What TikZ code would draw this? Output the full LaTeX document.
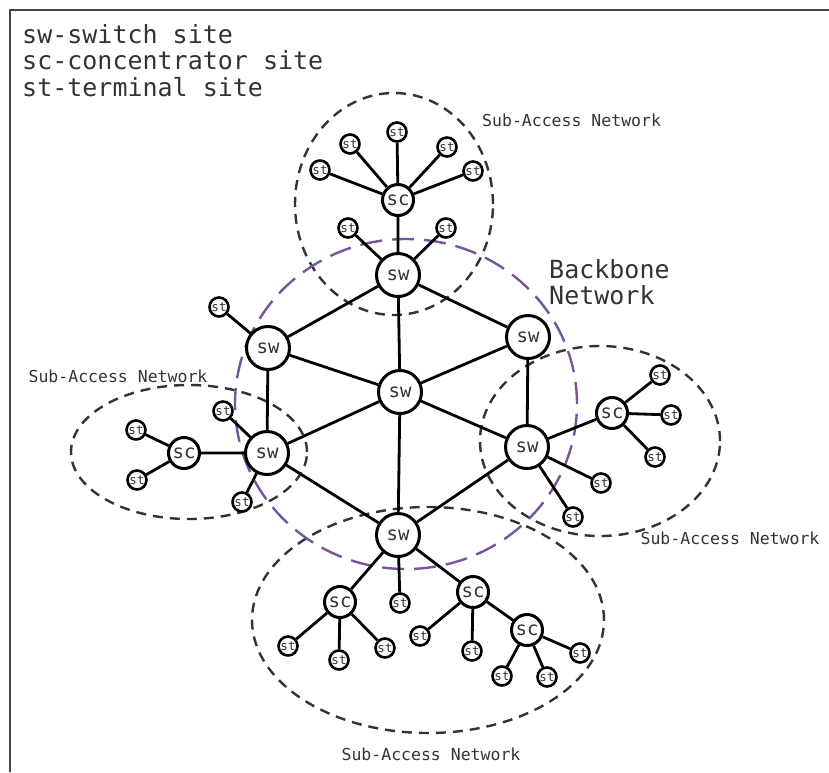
\documentclass[tikz,border=0pt]{standalone}
\usepackage{fontspec}
\setmonofont{DejaVu Sans Mono}
\usepackage{xcolor}
\definecolor{ink}{HTML}{333333}
\definecolor{framegray}{HTML}{444444}
\definecolor{bbpurple}{HTML}{76559A}

\begin{document}
\begin{tikzpicture}[x=1pt,y=-1pt]
  \tikzstyle{swnode}=[circle,draw,line width=3pt,fill=white,minimum size=43pt,inner sep=0pt,text=ink,font=\ttfamily\fontsize{19}{19}\selectfont]
  \tikzstyle{scnode}=[swnode,minimum size=31pt]
  \tikzstyle{stnode}=[swnode,minimum size=19pt,line width=2.6pt,font=\ttfamily\fontsize{12.5}{12.5}\selectfont]
  \tikzstyle{link}=[line width=2.8pt]
  \tikzstyle{area}=[draw=ink,dash pattern=on 10pt off 7pt,line width=2.4pt]
  \tikzstyle{areatxt}=[text=ink,inner sep=0pt,font=\ttfamily\fontsize{16.5}{16.5}\selectfont]
  \tikzstyle{bigtxt}=[text=ink,inner sep=0pt,align=left,anchor=north west,font=\ttfamily\fontsize{25}{26.5}\selectfont]
  \useasboundingbox (0,0) rectangle (829,772);
  \draw[line width=2.6pt,framegray] (10,772) -- (10,10) -- (829,10);
  % legend
  \node[bigtxt] (legend) at (22,24) {sw-switch site\\sc-concentrator site\\st-terminal site};
  % areas
  \draw[area] (394,204) ellipse [x radius=99pt,y radius=111pt];
  \draw[area] (189,452) ellipse [x radius=118pt,y radius=67pt];
  \draw[area] (600,441) ellipse [x radius=120pt,y radius=95pt];
  \draw[area] (428,620) ellipse [x radius=176pt,y radius=113pt];
  \draw[bbpurple,line width=2.4pt,dash pattern=on 22pt off 10pt] (406,404) ellipse [x radius=171pt,y radius=165pt];
  \node[areatxt,anchor=west] (toplabel) at (482,120) {Sub-Access Network};
  \node[areatxt] (leftlabel) at (118,376) {Sub-Access Network};
  \node[areatxt] (rightlabel) at (730,538) {Sub-Access Network};
  \node[areatxt] (bottomlabel) at (431,754) {Sub-Access Network};
  \node[bigtxt] (bbtext) at (549,259) {Backbone\\Network};
  % backbone switches
  \node[swnode] (swt) at (398,275) {sw};
  \node[swnode] (swul) at (268,348) {sw};
  \node[swnode] (swur) at (528,337) {sw};
  \node[swnode] (swc) at (400,392) {sw};
  \node[swnode] (swll) at (267,453) {sw};
  \node[swnode] (swlr) at (527,447) {sw};
  \node[swnode] (swb) at (398,535) {sw};
  % top access
  \node[scnode] (sct) at (398,200) {sc};
  \node[stnode] (stt1) at (320,170) {st};
  \node[stnode] (stt2) at (350,144) {st};
  \node[stnode] (stt3) at (397,132) {st};
  \node[stnode] (stt4) at (447,147) {st};
  \node[stnode] (stt5) at (473,171) {st};
  \node[stnode] (stt6) at (348,228) {st};
  \node[stnode] (stt7) at (446,228) {st};
  % left access
  \node[stnode] (stul) at (219,307) {st};
  \node[scnode] (scl) at (184,453) {sc};
  \node[stnode] (stl1) at (136,430) {st};
  \node[stnode] (stl2) at (137,480) {st};
  \node[stnode] (stl3) at (223,411) {st};
  \node[stnode] (stl4) at (242,502) {st};
  % right access
  \node[scnode] (scr) at (612,413) {sc};
  \node[stnode] (str1) at (660,375) {st};
  \node[stnode] (str2) at (671,415) {st};
  \node[stnode] (str3) at (655,457) {st};
  \node[stnode] (str4) at (601,483) {st};
  \node[stnode] (str5) at (573,517) {st};
  % bottom access
  \node[stnode] (stb0) at (400,603) {st};
  \node[scnode] (scb1) at (340,602) {sc};
  \node[stnode] (stb1) at (288,646) {st};
  \node[stnode] (stb2) at (339,660) {st};
  \node[stnode] (stb3) at (385,648) {st};
  \node[scnode] (scb2) at (473,592) {sc};
  \node[stnode] (stb4) at (420,636) {st};
  \node[stnode] (stb5) at (472,651) {st};
  \node[scnode] (scb3) at (527,630) {sc};
  \node[stnode] (stb6) at (502,676) {st};
  \node[stnode] (stb7) at (547,677) {st};
  \node[stnode] (stb8) at (580,653) {st};
  % backbone links
  \draw[link] (swt)--(swul) (swt)--(swur) (swt)--(swc);
  \draw[link] (swul)--(swc) (swur)--(swc) (swll)--(swc) (swlr)--(swc) (swb)--(swc);
  \draw[link] (swul)--(swll) (swur)--(swlr) (swll)--(swb) (swlr)--(swb);
  % access links
  \draw[link] (swt)--(sct) (swt)--(stt6) (swt)--(stt7);
  \draw[link] (sct)--(stt1) (sct)--(stt2) (sct)--(stt3) (sct)--(stt4) (sct)--(stt5);
  \draw[link] (swul)--(stul);
  \draw[link] (swll)--(scl) (swll)--(stl3) (swll)--(stl4) (scl)--(stl1) (scl)--(stl2);
  \draw[link] (swlr)--(scr) (swlr)--(str4) (swlr)--(str5);
  \draw[link] (scr)--(str1) (scr)--(str2) (scr)--(str3);
  \draw[link] (swb)--(stb0) (swb)--(scb1) (swb)--(scb2) (scb2)--(scb3);
  \draw[link] (scb1)--(stb1) (scb1)--(stb2) (scb1)--(stb3);
  \draw[link] (scb2)--(stb4) (scb2)--(stb5);
  \draw[link] (scb3)--(stb6) (scb3)--(stb7) (scb3)--(stb8);
\end{tikzpicture}
\end{document}
